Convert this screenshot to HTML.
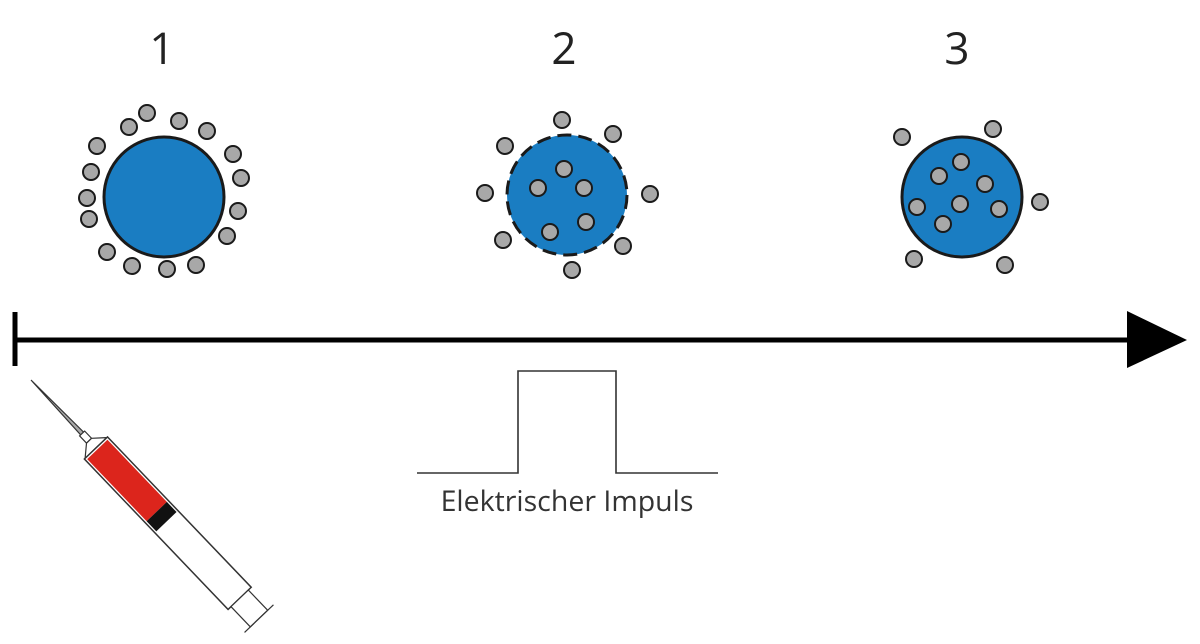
<!DOCTYPE html>
<html><head><meta charset="utf-8"><style>
html,body{margin:0;padding:0;background:#fff;}
svg{display:block;}
</style></head><body>
<svg width="1200" height="644" viewBox="0 0 1200 644" xmlns="http://www.w3.org/2000/svg">
<g font-family="'Open Sans','Liberation Sans',sans-serif" fill="#222" font-size="44" text-anchor="middle">
<text x="162" y="64">1</text>
<text x="564" y="64">2</text>
<text x="957" y="64">3</text>
</g>
<circle cx="164" cy="197" r="60" fill="#1a7dc2" stroke="#1a1a1a" stroke-width="3"/>
<circle cx="567" cy="195" r="60" fill="#1a7dc2" stroke="#1a1a1a" stroke-width="3" stroke-dasharray="14 7"/>
<circle cx="962" cy="197" r="60" fill="#1a7dc2" stroke="#1a1a1a" stroke-width="3"/>
<g fill="#a8a8a8" stroke="#1a1a1a" stroke-width="2">
<circle cx="147" cy="113" r="8"/><circle cx="129" cy="127" r="8"/><circle cx="179" cy="121" r="8"/><circle cx="207" cy="131" r="8"/>
<circle cx="97" cy="146" r="8"/><circle cx="233" cy="154" r="8"/><circle cx="91" cy="172" r="8"/><circle cx="241" cy="178" r="8"/>
<circle cx="87" cy="198" r="8"/><circle cx="89" cy="219" r="8"/><circle cx="238" cy="211" r="8"/><circle cx="227" cy="236" r="8"/>
<circle cx="107" cy="252" r="8"/><circle cx="132" cy="266" r="8"/><circle cx="167" cy="269" r="8"/><circle cx="196" cy="265" r="8"/>
<circle cx="562" cy="120" r="8"/><circle cx="613" cy="134" r="8"/><circle cx="505" cy="146" r="8"/><circle cx="485" cy="193" r="8"/>
<circle cx="650" cy="194" r="8"/><circle cx="503" cy="240" r="8"/><circle cx="623" cy="246" r="8"/><circle cx="572" cy="270" r="8"/>
<circle cx="564" cy="169" r="8"/><circle cx="538" cy="188" r="8"/><circle cx="584" cy="188" r="8"/><circle cx="586" cy="222" r="8"/><circle cx="550" cy="232" r="8"/>
<circle cx="902" cy="137" r="8"/><circle cx="993" cy="129" r="8"/><circle cx="1040" cy="202" r="8"/><circle cx="914" cy="259" r="8"/><circle cx="1005" cy="265" r="8"/>
<circle cx="961" cy="162" r="8"/><circle cx="939" cy="176" r="8"/><circle cx="985" cy="184" r="8"/><circle cx="917" cy="207" r="8"/>
<circle cx="960" cy="204" r="8"/><circle cx="999" cy="209" r="8"/><circle cx="943" cy="224" r="8"/>
</g>
<line x1="15" y1="340" x2="1130" y2="340" stroke="#000" stroke-width="5"/>
<line x1="15" y1="312" x2="15" y2="366" stroke="#000" stroke-width="5"/>
<polygon points="1127,311 1187,340 1127,368" fill="#000"/>
<polyline points="417,473 518,473 518,371 616,371 616,473 718,473" fill="none" stroke="#333" stroke-width="1.6"/>
<text x="567" y="511" font-family="'Open Sans','Liberation Sans',sans-serif" font-size="28.5" fill="#333" text-anchor="middle">Elektrischer Impuls</text>
<g transform="translate(31,380) rotate(46.3)" stroke="#333" stroke-width="1.2">
<polygon points="0,0 74,-2 74,2" fill="#aaa"/>
<rect x="74" y="-3.5" width="10" height="7" fill="#fff"/>
<polygon points="84,-3.5 94,-15 94,15 84,3.5" fill="#fff"/>
<rect x="94" y="-16" width="208" height="32" fill="#fff" stroke-width="1.5"/>
<rect x="96" y="-14" width="86" height="28" fill="#dc251c" stroke="none"/>
<rect x="182" y="-14" width="14" height="28" fill="#111" stroke="none"/>
<rect x="302" y="-12" width="28" height="24" fill="#fff"/>
<line x1="330" y1="-20" x2="330" y2="20"/>
</g>
</svg>
</body></html>
